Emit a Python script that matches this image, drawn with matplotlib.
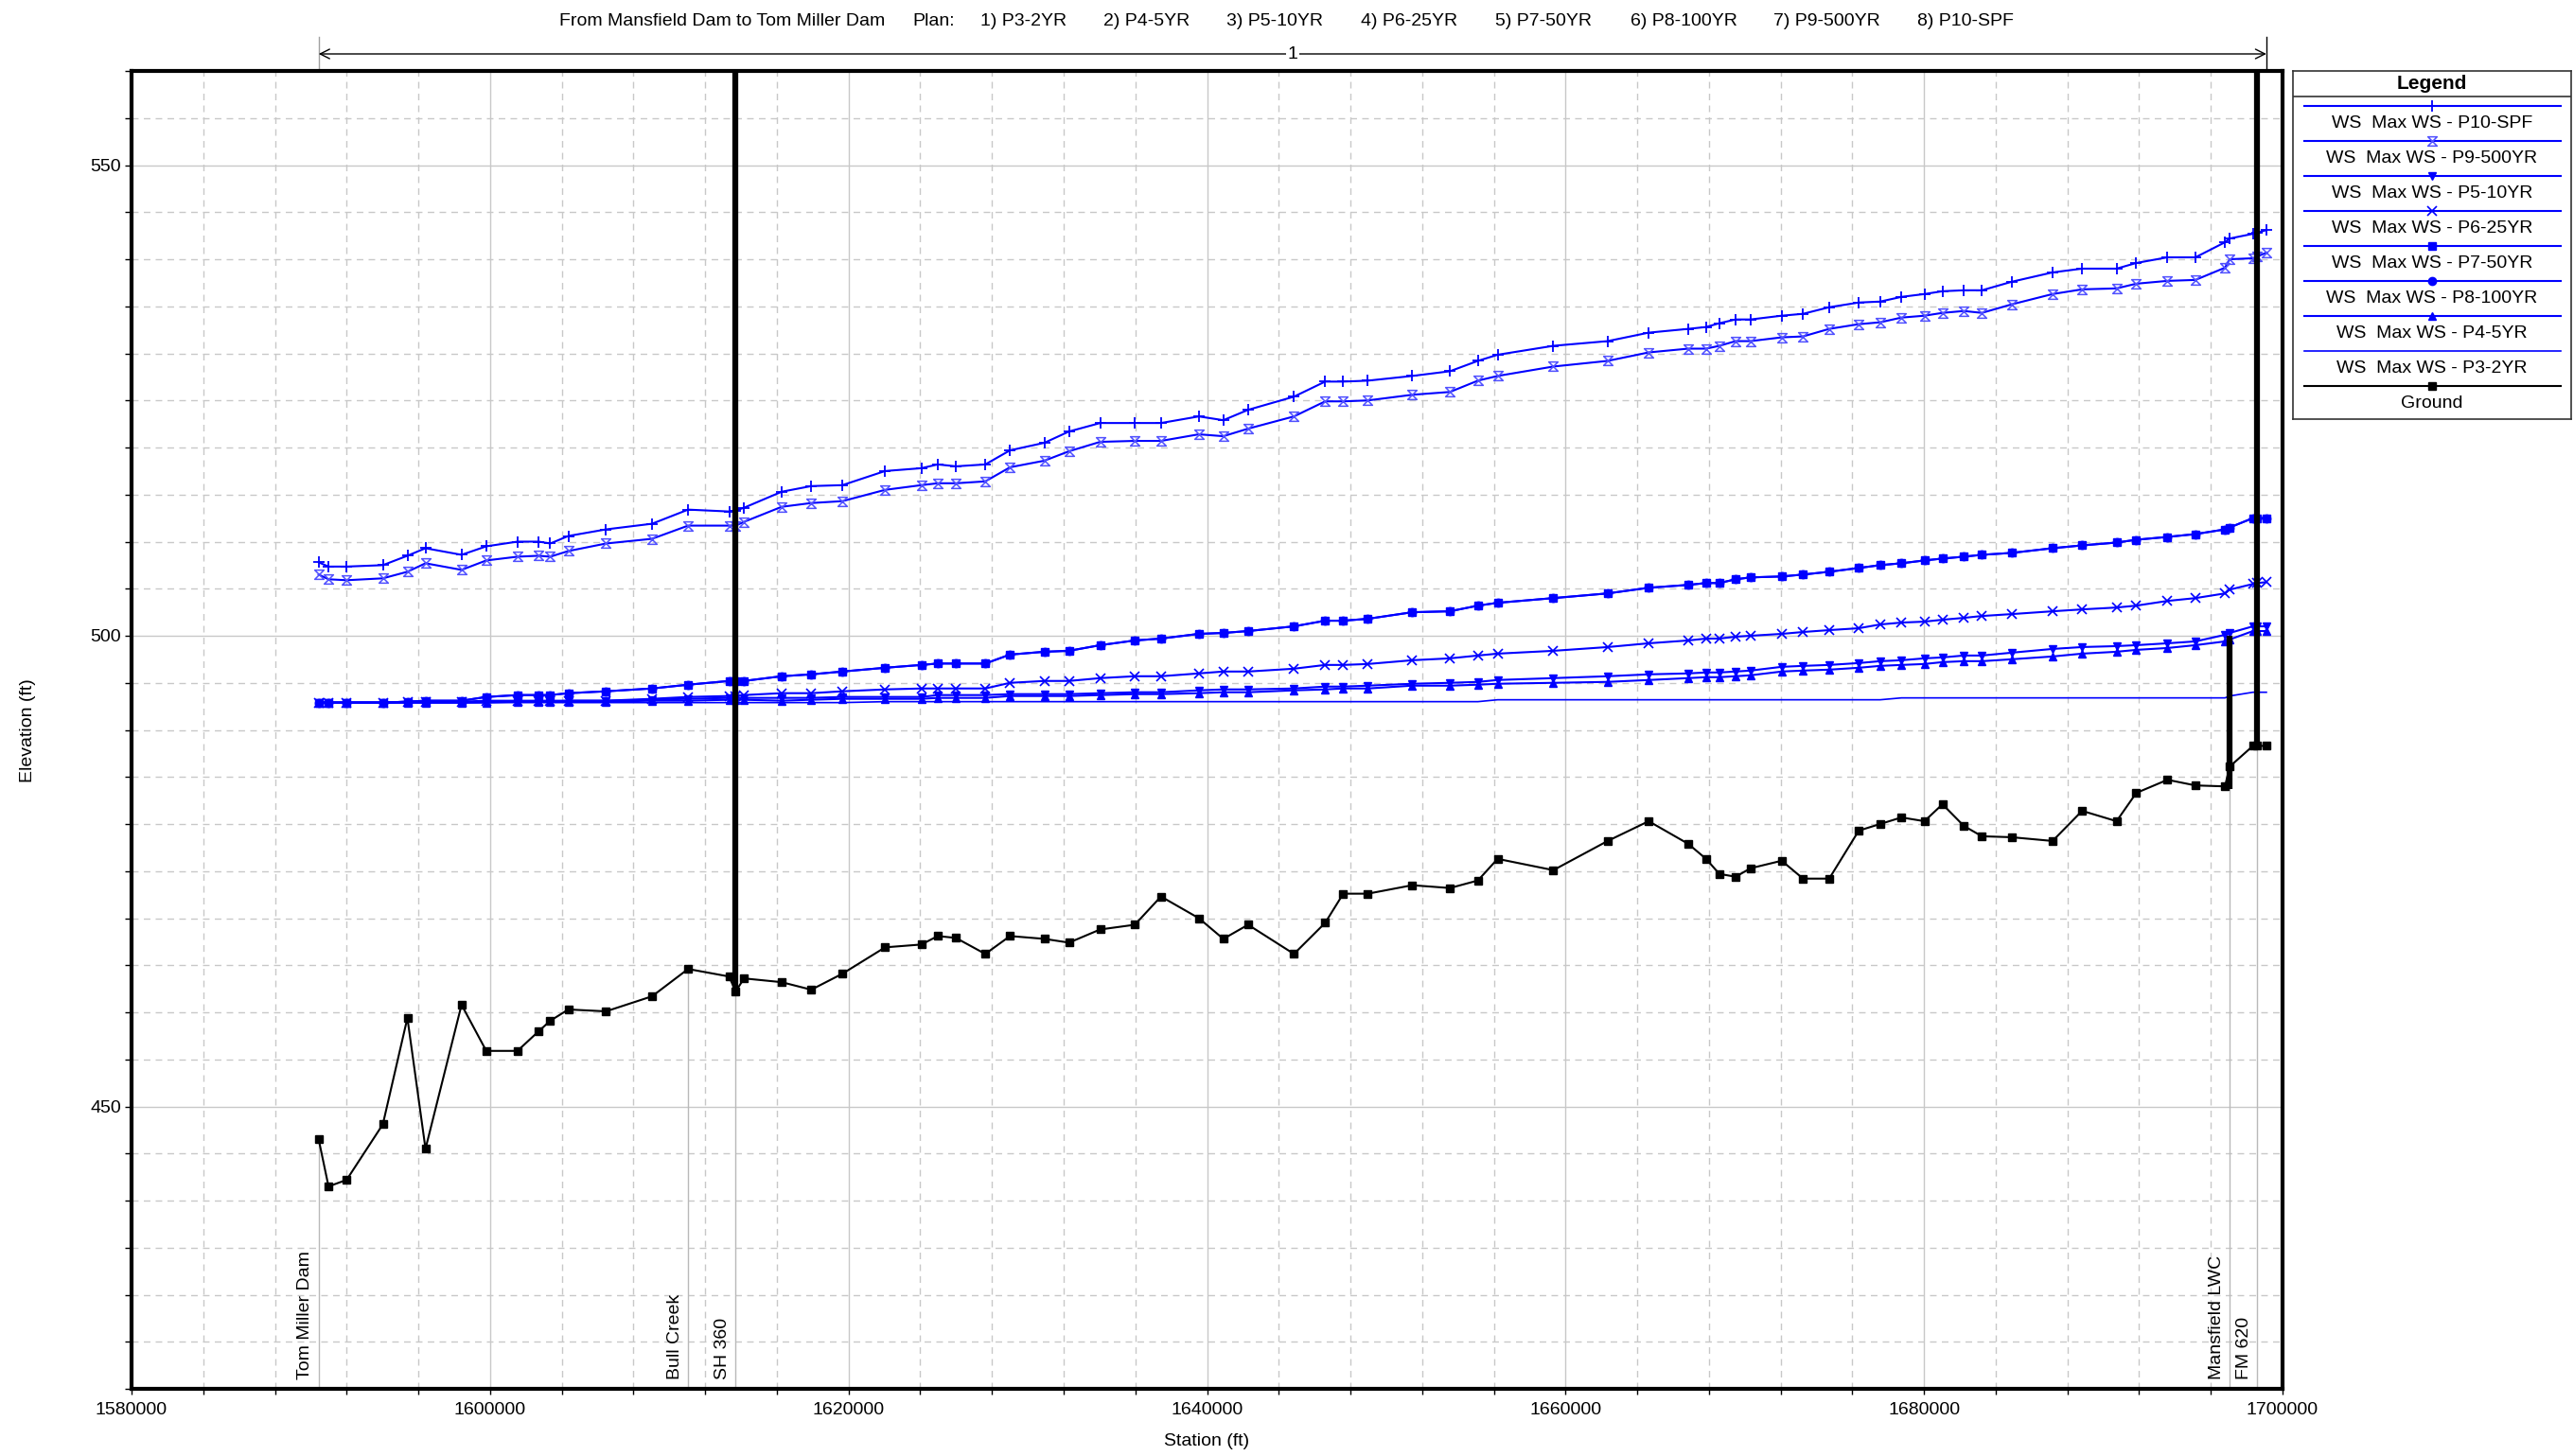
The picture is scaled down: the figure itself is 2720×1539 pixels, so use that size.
import matplotlib.pyplot as plt
import matplotlib.transforms as mtransforms
from matplotlib.path import Path
from matplotlib.ticker import MultipleLocator, FuncFormatter

plt.rcParams['font.family'] = ['Liberation Sans', 'DejaVu Sans']

# cross section stations (ft)
station = [1590440, 1590990, 1592000, 1594020, 1595390, 1596400, 1598410, 1599790, 1601530, 1602720,
           1603360, 1604370, 1606470, 1609040, 1611050, 1613340, 1613700, 1614170, 1616270, 1617920,
           1619660, 1622040, 1624060, 1624980, 1625990, 1627630, 1629010, 1630930, 1632300, 1634040,
           1635970, 1637430, 1639540, 1640910, 1642290, 1644850, 1646590, 1647600, 1648970, 1651450,
           1653550, 1655110, 1656210, 1659320, 1662350, 1664640, 1666840, 1667840, 1668580, 1669490,
           1670320, 1672060, 1673250, 1674710, 1676360, 1677550, 1678740, 1680020, 1681030, 1682220,
           1683230, 1684880, 1687170, 1688820, 1690740, 1691840, 1693580, 1695140, 1696790, 1697050,
           1698350, 1698600, 1699100]

ground = [446.5, 441.5, 442.2, 448.1, 459.4, 445.5, 460.8, 455.9, 455.9, 458.0,
          459.1, 460.3, 460.1, 461.7, 464.6, 463.8, 462.2, 463.6, 463.2, 462.4,
          464.1, 466.9, 467.2, 468.1, 467.9, 466.2, 468.1, 467.8, 467.4, 468.8,
          469.3, 472.3, 470.0, 467.8, 469.3, 466.2, 469.5, 472.6, 472.6, 473.5,
          473.2, 474.0, 476.3, 475.1, 478.2, 480.3, 477.9, 476.3, 474.7, 474.4,
          475.3, 476.1, 474.2, 474.2, 479.3, 480.0, 480.7, 480.3, 482.1, 479.8,
          478.7, 478.6, 478.2, 481.4, 480.3, 483.3, 484.7, 484.1, 484.0, 486.1,
          488.3, 488.3, 488.3]

ws_p10 = [507.8, 507.35, 507.35, 507.5, 508.5, 509.3, 508.6, 509.5, 510.0, 510.0,
          509.8, 510.6, 511.3, 511.9, 513.4, 513.2, 513.3, 513.6, 515.3, 515.9,
          516.0, 517.5, 517.8, 518.2, 518.0, 518.2, 519.7, 520.5, 521.7, 522.6,
          522.6, 522.6, 523.3, 522.9, 524.0, 525.4, 527.0, 527.0, 527.1, 527.6,
          528.1, 529.2, 529.85, 530.8, 531.3, 532.2, 532.6, 532.8, 533.2, 533.6,
          533.6, 534.0, 534.2, 534.9, 535.4, 535.5, 536.0, 536.3, 536.6, 536.7,
          536.7, 537.6, 538.6, 539.0, 539.0, 539.6, 540.2, 540.2, 541.8, 542.2,
          542.7, 542.8, 543.1]

ws_p9 = [506.5, 506.0, 505.9, 506.1, 506.8, 507.7, 507.0, 508.0, 508.4, 508.5,
         508.4, 509.0, 509.8, 510.3, 511.7, 511.7, 511.7, 512.1, 513.7, 514.1,
         514.3, 515.5, 516.0, 516.2, 516.2, 516.4, 517.9, 518.6, 519.6, 520.6,
         520.7, 520.7, 521.4, 521.2, 522.0, 523.3, 524.9, 524.9, 525.0, 525.6,
         525.9, 527.1, 527.6, 528.6, 529.2, 530.1, 530.5, 530.5, 530.8, 531.3,
         531.3, 531.7, 531.8, 532.6, 533.1, 533.3, 533.8, 534.0, 534.3, 534.5,
         534.3, 535.2, 536.3, 536.8, 536.9, 537.4, 537.7, 537.8, 539.1, 540.0,
         540.1, 540.3, 540.7]

ws_p8 = [492.9, 492.9, 492.9, 492.9, 493.0, 493.1, 493.1, 493.5, 493.7, 493.7,
         493.7, 493.9, 494.1, 494.4, 494.8, 495.2, 495.2, 495.2, 495.7, 495.9,
         496.2, 496.6, 496.9, 497.05, 497.05, 497.05, 498.0, 498.3, 498.4, 499.0,
         499.5, 499.7, 500.2, 500.3, 500.5, 501.0, 501.6, 501.6, 501.8, 502.5,
         502.6, 503.2, 503.5, 504.0, 504.5, 505.1, 505.4, 505.6, 505.6, 506.0,
         506.2, 506.3, 506.5, 506.8, 507.2, 507.5, 507.7, 508.0, 508.2, 508.4,
         508.6, 508.8, 509.3, 509.6, 509.9, 510.2, 510.5, 510.8, 511.3, 511.5,
         512.5, 512.5, 512.5]

ws_p7 = [492.9, 492.9, 492.9, 492.9, 493.0, 493.1, 493.1, 493.5, 493.7, 493.7,
         493.7, 493.9, 494.1, 494.4, 494.8, 495.2, 495.2, 495.2, 495.7, 495.9,
         496.2, 496.6, 496.9, 497.05, 497.05, 497.05, 498.0, 498.3, 498.4, 499.0,
         499.5, 499.7, 500.2, 500.3, 500.5, 501.0, 501.6, 501.6, 501.8, 502.5,
         502.6, 503.2, 503.5, 504.0, 504.5, 505.1, 505.4, 505.6, 505.6, 506.0,
         506.2, 506.3, 506.5, 506.8, 507.2, 507.5, 507.7, 508.0, 508.2, 508.4,
         508.6, 508.8, 509.3, 509.6, 509.9, 510.2, 510.5, 510.8, 511.3, 511.5,
         512.5, 512.5, 512.5]

ws_p6 = [492.9, 492.9, 492.9, 492.9, 493.0, 493.0, 493.0, 493.1, 493.1, 493.1,
         493.1, 493.1, 493.1, 493.3, 493.5, 493.6, 493.6, 493.7, 493.9, 493.9,
         494.1, 494.3, 494.4, 494.4, 494.4, 494.4, 495.0, 495.2, 495.2, 495.5,
         495.7, 495.7, 496.0, 496.2, 496.2, 496.5, 496.9, 496.9, 497.0, 497.4,
         497.6, 497.9, 498.1, 498.4, 498.8, 499.2, 499.5, 499.7, 499.7, 499.9,
         500.0, 500.2, 500.4, 500.6, 500.8, 501.2, 501.4, 501.5, 501.7, 501.9,
         502.1, 502.3, 502.6, 502.8, 503.0, 503.2, 503.7, 504.0, 504.5, 504.9,
         505.5, 505.6, 505.7]

ws_p5 = [492.9, 492.9, 492.9, 492.9, 492.9, 492.9, 492.9, 493.0, 493.0, 493.0,
         493.0, 493.1, 493.1, 493.2, 493.3, 493.4, 493.4, 493.4, 493.4, 493.4,
         493.5, 493.5, 493.5, 493.7, 493.7, 493.7, 493.8, 493.8, 493.8, 493.9,
         494.0, 494.0, 494.2, 494.3, 494.3, 494.4, 494.6, 494.6, 494.7, 494.9,
         495.0, 495.1, 495.3, 495.5, 495.7, 495.9, 496.0, 496.1, 496.1, 496.2,
         496.3, 496.7, 496.8, 496.9, 497.1, 497.3, 497.4, 497.6, 497.7, 497.9,
         497.9, 498.2, 498.6, 498.8, 498.9, 499.0, 499.2, 499.4, 500.1, 500.3,
         501.0, 501.0, 501.0]

ws_p4 = [492.9, 492.9, 492.9, 492.9, 492.9, 492.9, 492.9, 492.9, 493.0, 493.0,
         493.0, 493.0, 493.0, 493.1, 493.1, 493.2, 493.2, 493.2, 493.1, 493.2,
         493.3, 493.3, 493.3, 493.4, 493.4, 493.4, 493.6, 493.6, 493.6, 493.7,
         493.8, 493.8, 493.9, 494.0, 494.0, 494.2, 494.3, 494.4, 494.4, 494.7,
         494.7, 494.8, 494.9, 495.0, 495.1, 495.3, 495.5, 495.6, 495.6, 495.7,
         495.8, 496.2, 496.3, 496.4, 496.6, 496.8, 496.9, 497.0, 497.2, 497.3,
         497.3, 497.5, 497.8, 498.1, 498.3, 498.5, 498.7, 499.0, 499.4, 499.6,
         500.5, 500.5, 500.5]

ws_p3 = [492.9, 492.9, 492.9, 492.9, 492.9, 492.9, 492.9, 492.9, 492.9, 492.9,
         492.9, 492.9, 492.9, 492.9, 492.9, 492.9, 492.9, 492.9, 492.9, 492.9,
         492.9, 493.0, 493.0, 493.0, 493.0, 493.0, 493.0, 493.0, 493.0, 493.0,
         493.0, 493.0, 493.0, 493.0, 493.0, 493.0, 493.0, 493.0, 493.0, 493.0,
         493.0, 493.0, 493.2, 493.2, 493.2, 493.2, 493.2, 493.2, 493.2, 493.2,
         493.2, 493.2, 493.2, 493.2, 493.2, 493.2, 493.4, 493.4, 493.4, 493.4,
         493.4, 493.4, 493.4, 493.4, 493.4, 493.4, 493.4, 493.4, 493.4, 493.6,
         494.0, 494.0, 494.0]

# named locations along the reach
loc_names = ['Tom Miller Dam', 'Bull Creek', 'SH 360', 'Mansfield LWC', 'FM 620']
loc_station = [1590440, 1611050, 1613700, 1697050, 1698600]
loc_ground = [446.5, 464.6, 462.2, 484.0, 488.3]

# bridges / inline structure drawn as thick black lines
struct_station = [1613700, 1697050, 1698600]
struct_bottom = [462.2, 483.7, 488.3]
struct_top = [560.0, 500.0, 560.0]

plan_text = ['From Mansfield Dam to Tom Miller Dam', 'Plan:', '1) P3-2YR', '2) P4-5YR',
             '3) P5-10YR', '4) P6-25YR', '5) P7-50YR', '6) P8-100YR', '7) P9-500YR', '8) P10-SPF']
plan_xpix = [591, 964, 1036, 1166, 1296, 1438, 1580, 1723, 1874, 2026]

W, H = 2720, 1539
fig = plt.figure(figsize=(W / 100, H / 100), dpi=100)
ax = fig.add_axes([139 / W, 1 - 1468 / H, (2412 - 139) / W, (1468 - 75) / H])

hourglass = Path([(-1, 1), (1, 1), (-1, -1), (1, -1), (-1, 1)],
                 [Path.MOVETO, Path.LINETO, Path.LINETO, Path.LINETO, Path.CLOSEPOLY])

blue = '#0000ff'
styles = {
    'WS  Max WS - P10-SPF': dict(data=ws_p10, color=blue, marker='+', ms=8, mew=1.3),
    'WS  Max WS - P9-500YR': dict(data=ws_p9, color=blue, marker=hourglass, ms=7, mfc='none',
                                  mec='#5050ff', mew=1.1),
    'WS  Max WS - P5-10YR': dict(data=ws_p5, color=blue, marker='v', ms=6),
    'WS  Max WS - P6-25YR': dict(data=ws_p6, color=blue, marker='x', ms=7, mew=1.2),
    'WS  Max WS - P7-50YR': dict(data=ws_p7, color=blue, marker='s', ms=6),
    'WS  Max WS - P8-100YR': dict(data=ws_p8, color=blue, marker='o', ms=6),
    'WS  Max WS - P4-5YR': dict(data=ws_p4, color=blue, marker='^', ms=6),
    'WS  Max WS - P3-2YR': dict(data=ws_p3, color=blue, marker='None', lw=1.2),
    'Ground': dict(data=ground, color='black', marker='s', ms=6),
}
legend_order = list(styles.keys())
draw_order = ['Ground', 'WS  Max WS - P3-2YR', 'WS  Max WS - P4-5YR', 'WS  Max WS - P5-10YR',
              'WS  Max WS - P6-25YR', 'WS  Max WS - P8-100YR', 'WS  Max WS - P7-50YR',
              'WS  Max WS - P9-500YR', 'WS  Max WS - P10-SPF']

# thin gray lines at named locations
ax.vlines(loc_station, 420, loc_ground, color='#b9b9b9', lw=1.0, zorder=1.5)

for z, name in enumerate(draw_order):
    st = dict(styles[name])
    y = st.pop('data')
    lw = st.pop('lw', 1.5)
    ax.plot(station, y, lw=lw, zorder=3 + z * 0.1, clip_on=False, **st)

ax.vlines(struct_station, struct_bottom, struct_top, color='black', lw=4.5, zorder=6)

for name, sta in zip(loc_names, loc_station):
    ax.annotate(name, xy=(sta, 420), xytext=(-4, 7), textcoords='offset points',
                rotation=90, ha='right', va='bottom', fontsize=14)

ax.set_xlim(1580000, 1700000)
ax.set_ylim(420, 560)
ax.xaxis.set_major_locator(MultipleLocator(20000))
ax.xaxis.set_minor_locator(MultipleLocator(4000))
ax.yaxis.set_major_locator(MultipleLocator(50))
ax.yaxis.set_minor_locator(MultipleLocator(5))
ax.xaxis.set_major_formatter(FuncFormatter(lambda v, p: f'{int(v)}'))
ax.grid(which='major', color='#c8c8c8', lw=1.0, ls='-', zorder=0)
ax.grid(which='minor', color='#c8c8c8', lw=1.0, ls=(0, (5, 4)), zorder=0)
ax.set_axisbelow(True)
ax.tick_params(axis='both', which='both', direction='out', width=1, labelsize=14)
ax.tick_params(axis='y', which='both', length=5, pad=3)
ax.tick_params(axis='x', which='both', length=4, pad=6)
for sp in ax.spines.values():
    sp.set_linewidth(3)

fig.text(1275 / W, 1 - 1523 / H, 'Station (ft)', ha='center', va='center', fontsize=14)
fig.text(30 / W, 1 - 772 / H, 'Elevation (ft)', ha='center', va='center', rotation=90, fontsize=14)

# plan header
for txt, xp in zip(plan_text, plan_xpix):
    fig.text(xp / W, 1 - 22.5 / H, txt, ha='left', va='center', fontsize=14)

# reach arrow above the plot
trans = mtransforms.blended_transform_factory(ax.transData, fig.transFigure)
ya = 1 - 57 / H
ax.annotate('', xy=(station[-1], ya), xytext=(station[0], ya), xycoords=trans, textcoords=trans,
            arrowprops=dict(arrowstyle='<->', color='black', lw=1.0, mutation_scale=18,
                            shrinkA=0, shrinkB=0), annotation_clip=False)
ax.plot([station[0], station[0]], [1 - 39 / H, 1 - 75 / H], transform=trans, color='#a0a0a0',
        lw=1, clip_on=False)
ax.plot([station[-1], station[-1]], [1 - 39 / H, 1 - 75 / H], transform=trans, color='black',
        lw=1, clip_on=False)
ax.text((station[0] + station[-1]) / 2, ya, '1', transform=trans, ha='center', va='center',
        fontsize=14, bbox=dict(fc='white', ec='none', pad=1))

# legend box drawn by hand
lx0, ly0, lx1, ly1 = 2423, 75, 2717, 443
lax = fig.add_axes([lx0 / W, 1 - ly1 / H, (lx1 - lx0) / W, (ly1 - ly0) / H])
lax.set_xlim(0, lx1 - lx0)
lax.set_ylim(ly1 - ly0, 0)
lax.set_xticks([])
lax.set_yticks([])
for sp in lax.spines.values():
    sp.set_linewidth(1.2)
    sp.set_color('#333333')
lax.text((lx1 - lx0) / 2, 13, 'Legend', ha='center', va='center', fontsize=15, fontweight='bold')
lax.axhline(26.7, color='#333333', lw=1.2)
cx = (lx1 - lx0) / 2
for i, name in enumerate(legend_order):
    st = dict(styles[name])
    st.pop('data')
    lw = st.pop('lw', 1.5)
    marker = st.pop('marker')
    yl = 36.7 + 37.0 * i
    lax.plot([12, 283], [yl, yl], color=st['color'], lw=lw)
    if marker != 'None':
        lax.plot([cx], [yl], marker=marker, ls='none', **st)
    lax.text(cx, yl + 18.5, name, ha='center', va='center', fontsize=14)

fig.savefig('out.png', dpi=100)
